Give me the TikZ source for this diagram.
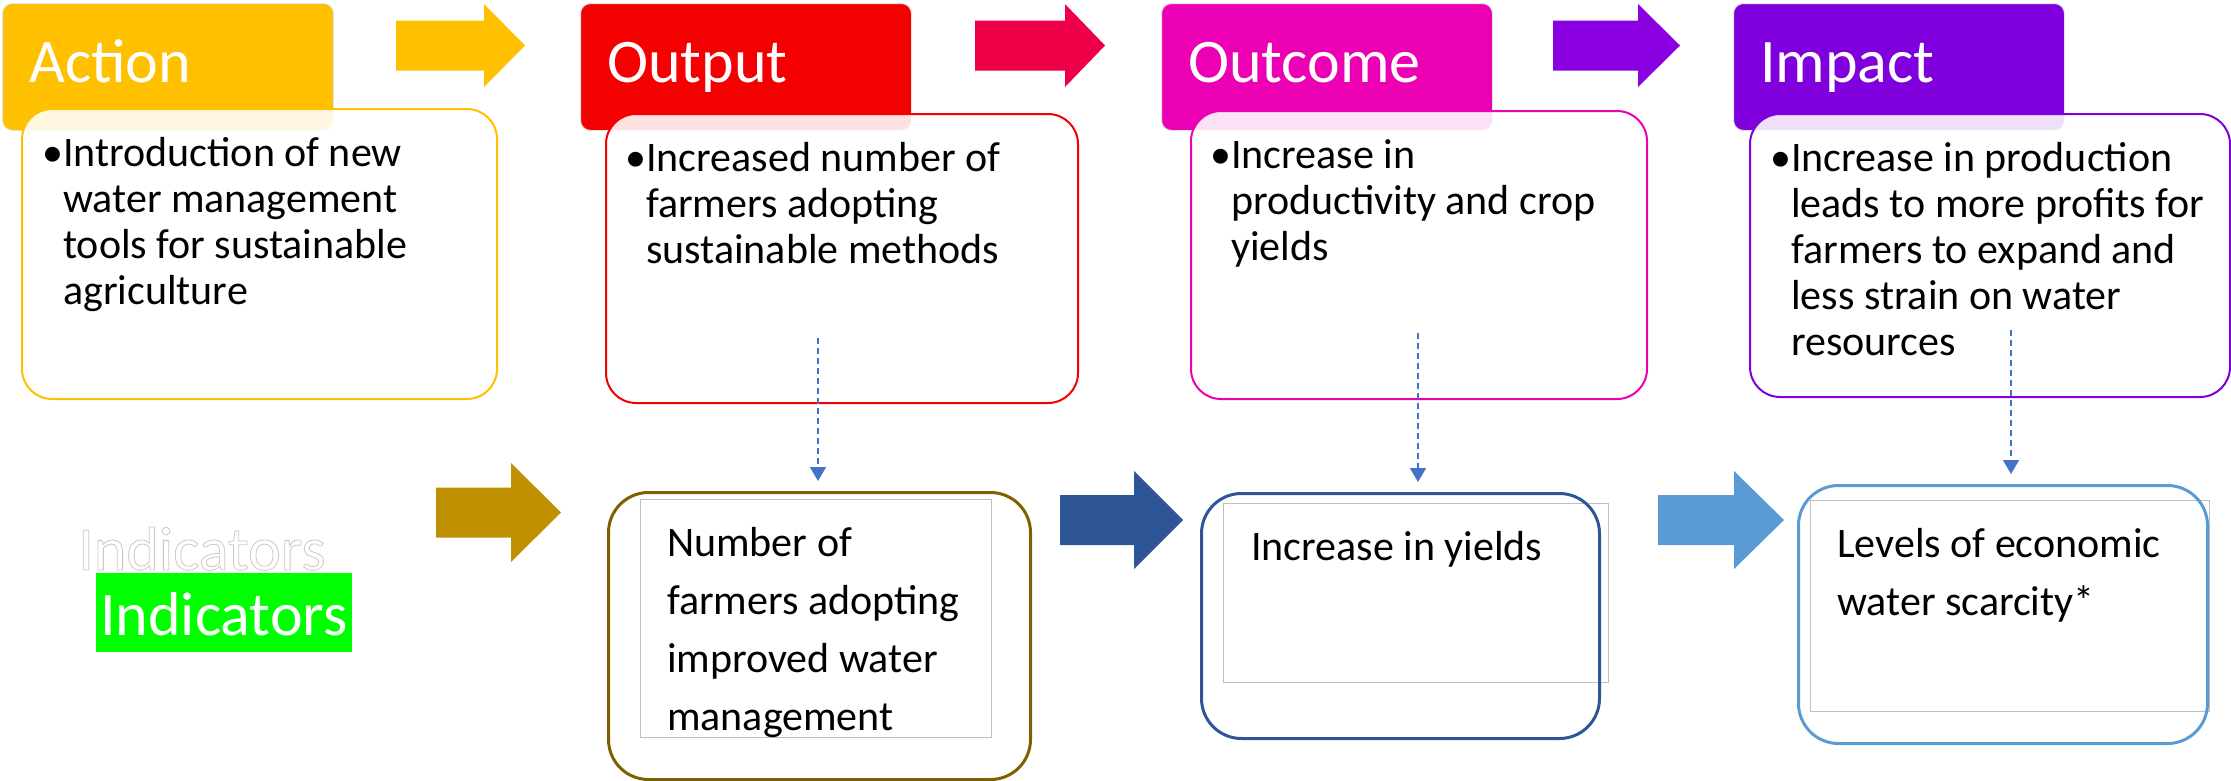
\documentclass[tikz,border=0pt]{standalone}
\usepackage{fontspec}
\setmainfont{Carlito}
\usetikzlibrary{arrows.meta,calc,positioning}

\definecolor{actioncol}{HTML}{FFC000}
\definecolor{outputcol}{HTML}{F40000}
\definecolor{outcomecol}{HTML}{EC00B4}
\definecolor{impactcol}{HTML}{8000DD}
\definecolor{crimson}{HTML}{EE0048}
\definecolor{violet}{HTML}{8A00E0}
\definecolor{goldcol}{HTML}{BF9000}
\definecolor{olivecol}{HTML}{7F6000}
\definecolor{darkbluecol}{HTML}{2F5597}
\definecolor{lightbluecol}{HTML}{5B9BD5}
\definecolor{dashcol}{HTML}{4472C4}
\definecolor{indgreen}{HTML}{00FF00}

% colour, left x, middle y, shaft length, head length, head half height
\newcommand{\blockarrow}[6]{%
  \fill[#1] (#2,#3) ++(0,-25) -- ++(#4,0) -- ++(0,{-(#6-25)}) -- ++(#5,#6)
    -- ++(-#5,#6) -- ++(0,{-(#6-25)}) -- ++(-#4,0) -- cycle;}
% fixed height of the first line, so the first baseline sits 36pt below the node top
\newcommand{\firstline}{\rule{0pt}{36pt}}

\begin{document}
\begin{tikzpicture}[x=1pt,y=-1pt]
\tikzstyle{headbox}=[anchor=north west, rounded corners=10pt, minimum width=331pt, minimum height=127pt, draw=black!10, line width=1pt]
\tikzstyle{bodybox}=[anchor=north west, rounded corners=30pt, line width=2pt, fill=white, fill opacity=0.88]
\tikzstyle{headtext}=[anchor=base west, inner sep=0pt, text=white, font=\fontsize{62pt}{74pt}\selectfont]
\tikzstyle{bodytext}=[anchor=north west, inner sep=0pt, align=left, font=\fontsize{42pt}{46pt}\selectfont]
\tikzstyle{indbox}=[anchor=north west, rounded corners=40pt, line width=3pt]
\tikzstyle{textframe}=[anchor=north west, draw=black!25, line width=1pt]
\tikzstyle{indtext}=[anchor=north west, inner sep=0pt, align=left, font=\fontsize{42pt}{58pt}\selectfont]
\tikzstyle{dasharr}=[dashcol, line width=1.5pt, dash pattern=on 6pt off 4pt, -{Triangle[width=16pt,length=14pt]}, shorten >=10pt]

\useasboundingbox (0,0) rectangle (2231,780);

% top row
\node[headbox, fill=actioncol] (actionhead) at (2,3) {};
\node[headbox, fill=outputcol] (outputhead) at (580,3) {};
\node[headbox, fill=outcomecol] (outcomehead) at (1161,3) {};
\node[headbox, fill=impactcol] (impacthead) at (1733,3) {};

\node[bodybox, draw=actioncol, minimum width=475pt, minimum height=290pt] (actionbody) at (21,108) {};
\node[bodybox, draw=outputcol, minimum width=472pt, minimum height=289pt] (outputbody) at (605,113) {};
\node[bodybox, draw=outcomecol, minimum width=456pt, minimum height=288pt] (outcomebody) at (1190,110) {};
\node[bodybox, draw=impactcol, minimum width=480pt, minimum height=283pt] (impactbody) at (1749,113) {};

\node[headtext] (actionlabel) at ($(actionhead.north west)+(27,79)$) {Action};
\node[headtext] (outputlabel) at ($(outputhead.north west)+(27,79)$) {Output};
\node[headtext] (outcomelabel) at ($(outcomehead.north west)+(27,79)$) {Outcome};
\node[headtext] (impactlabel) at ($(impacthead.north west)+(27,79)$) {Impact};

\node[bodytext] (actiontext) at ($(actionbody.north west)+(42,22)$)
  {\firstline\llap{\textbullet}Introduction of new\\water management\\tools for sustainable\\agriculture};
\node[bodytext] (outputtext) at ($(outputbody.north west)+(41,22)$)
  {\firstline\llap{\textbullet}Increased number of\\farmers adopting\\sustainable methods};
\node[bodytext] (outcometext) at ($(outcomebody.north west)+(41,22)$)
  {\firstline\llap{\textbullet}Increase in\\productivity and crop\\yields};
\node[bodytext] (impacttext) at ($(impactbody.north west)+(42,22)$)
  {\firstline\llap{\textbullet}Increase in production\\leads to more profits for\\farmers to expand and\\less strain on water\\resources};

\blockarrow{actioncol}{396}{45.5}{88}{41}{41.5}
\blockarrow{crimson}{975}{45.5}{90}{40}{41.5}
\blockarrow{violet}{1553}{45.5}{85}{42}{41.5}

% indicators row
\node[anchor=base west, inner sep=0pt, text=black!22, font=\fontsize{62pt}{74pt}\selectfont] (indghost) at (78,570)
  {\special{pdf:literal direct 1 Tr 0.8 w}Indicators\special{pdf:literal direct 0 Tr}};
\node[anchor=base west, fill=indgreen, text=white, inner xsep=4pt, inner ysep=3pt, text height=59pt, text depth=14pt,
  font=\fontsize{62pt}{74pt}\selectfont] (indlabel) at (96,635) {Indicators};

\node[textframe, minimum width=351pt, minimum height=238pt] (frame1) at (640,499) {};
\node[textframe, minimum width=385pt, minimum height=179pt] (frame2) at (1223,503) {};
\node[textframe, minimum width=399pt, minimum height=211pt] (frame3) at (1810,500) {};

\node[indbox, draw=olivecol, minimum width=422pt, minimum height=287pt] (box1) at (607,491) {};
\node[indbox, draw=darkbluecol, minimum width=398pt, minimum height=245pt] (box2) at (1200,492) {};
\node[indbox, draw=lightbluecol, minimum width=409pt, minimum height=258pt] (box3) at (1797,484) {};

\node[indtext] (ind1) at ($(frame1.north west)+(27,21)$) {\firstline Number of\\farmers adopting\\improved water\\management};
\node[indtext] (ind2) at ($(frame2.north west)+(28,21)$) {\firstline Increase in yields};
\node[indtext] (ind3) at ($(frame3.north west)+(27,21)$) {\firstline Levels of economic\\water scarcity*};

\blockarrow{goldcol}{436}{512.5}{75}{50}{49.5}
\blockarrow{darkbluecol}{1060}{520}{74}{49}{49}
\blockarrow{lightbluecol}{1658}{520}{76}{50}{49}

\coordinate (d1) at (818,338);
\coordinate (d2) at (1418,333);
\coordinate (d3) at (2011,330);
\foreach \s/\t in {d1/box1,d2/box2,d3/box3}
  \draw[dasharr] (\s) -- (\s |- \t.north);

\end{tikzpicture}
\end{document}
